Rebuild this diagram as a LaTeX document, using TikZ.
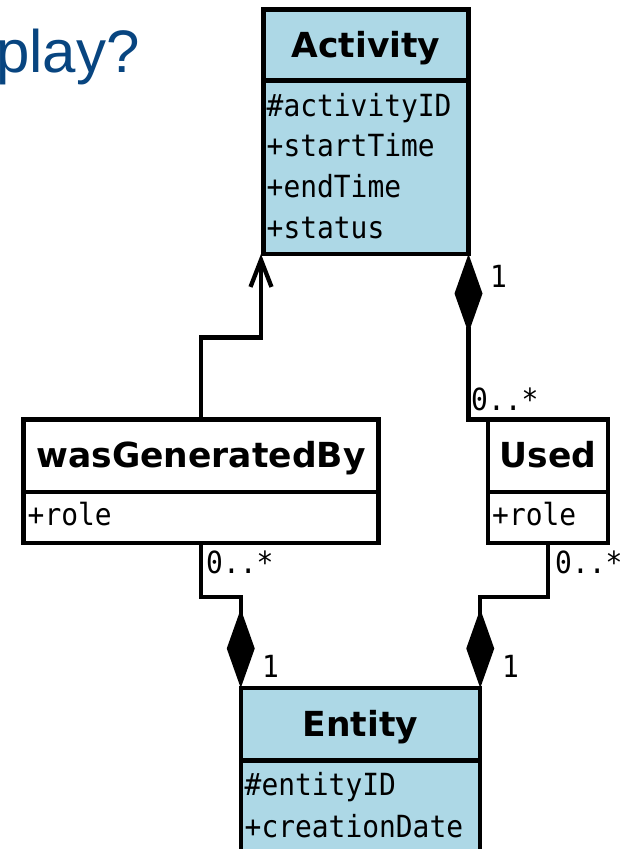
\documentclass[tikz,border=0pt]{standalone}
\usepackage{fontspec}
\setmainfont{DejaVu Sans}
\newfontfamily\umlMono[FakeStretch=0.915]{DejaVu Sans Mono}
\newfontfamily\slideFont{Liberation Sans}
\usepackage{tikz}
\usetikzlibrary{arrows.meta,positioning}
\definecolor{provBlue} {RGB}{173, 216, 230}
\definecolor{slideBlue}{RGB}{8,   69,  128}

\tikzset{
  umlBox/.style   ={draw,line width=4.3pt,outer sep=0pt,inner sep=0pt},
  umlHead/.style  ={umlBox,font=\bfseries\fontsize{34.5}{40}\selectfont,
                    text height=32pt,text depth=8pt},
  umlBody/.style  ={umlBox},
  umlAttr/.style  ={anchor=base west,inner sep=0pt,
                    font=\umlMono\fontsize{30.5}{36}\selectfont},
  mult/.style     ={umlAttr},
  compo/.style    ={line width=4.3pt,{Diamond[length=79pt,width=28pt]}-},
  gener/.style    ={line width=4.3pt,-{Straight Barb[length=27pt,width=21pt]}}
}

\begin{document}
\begin{tikzpicture}[x=1pt,y=-1pt]

    \useasboundingbox (0,0) rectangle (630,849);
    \clip (0,0) rectangle (630,849);

    % ── titulo cortado do slide ───────────────────────────
    \node[anchor=base west,inner sep=0pt,slideBlue,
          font=\slideFont\fontsize{60}{70}\selectfont] (slide-title) at (-4,72) {play?};

    % ─── Classe Activity ──────────────────────────────────
    \node[umlHead,fill=provBlue,minimum width=205pt,minimum height=71pt]
      (act-head) at (366,45) {Activity};
    \node[umlBody,fill=provBlue,minimum width=205pt,minimum height=173.5pt,
          below=0pt of act-head] (act-body) {};
    \foreach \attr [count=\i] in {\#activityID,+startTime,+endTime,+status}
      \node[umlAttr] (act-attr\i) at (266.5,{75.5+40.7*\i}) {\attr};

    % ─── Classe wasGeneratedBy ────────────────────────────
    \node[umlHead,fill=white,minimum width=355pt,minimum height=72.5pt]
      (wgb-head) at (201,455.75) {wasGeneratedBy};
    \node[umlBody,fill=white,minimum width=355pt,minimum height=51pt,
          below=0pt of wgb-head] (wgb-body) {};
    \node[umlAttr] (wgb-attr1) at (27.5,525) {+role};

    % ─── Classe Used ──────────────────────────────────────
    \node[umlHead,fill=white,minimum width=120.5pt,minimum height=72.5pt]
      (used-head) at (548,455.75) {Used};
    \node[umlBody,fill=white,minimum width=120.5pt,minimum height=51pt,
          below=0pt of used-head] (used-body) {};
    \node[umlAttr] (used-attr1) at (492,525) {+role};

    % ─── Classe Entity ────────────────────────────────────
    \node[umlHead,fill=provBlue,minimum width=239.5pt,minimum height=72.5pt]
      (ent-head) at (360.5,724.25) {Entity};
    \node[umlBody,fill=provBlue,minimum width=239.5pt,minimum height=120pt,
          below=0pt of ent-head] (ent-body) {};
    \foreach \attr [count=\i] in {\#entityID,+creationDate}
      \node[umlAttr] (ent-attr\i) at (244.5,{753+42*\i}) {\attr};

    % Heranca: wasGeneratedBy -> Activity
    \draw[gener] (wgb-head.north) -- ++(0,-82) -| ([xshift=-2.5pt]act-body.south west);

    % Composicoes (losango no lado do todo)
    \draw[compo] (act-body.south east) |- (used-head.north west);
    \draw[compo] (ent-head.north west) -- ++(0,-91) -| (wgb-body.south);
    \draw[compo] (ent-head.north east) -- ++(0,-91) -| (used-body.south);

    % Multiplicidades
    \node[mult] (m-act)     at (490,287) {1};
    \node[mult] (m-used-up) at (471,410) {0..*};
    \node[mult] (m-wgb)     at (206,573) {0..*};
    \node[mult] (m-used-dn) at (555,573) {0..*};
    \node[mult] (m-ent-l)   at (262,677) {1};
    \node[mult] (m-ent-r)   at (502,677) {1};

\end{tikzpicture}
\end{document}
